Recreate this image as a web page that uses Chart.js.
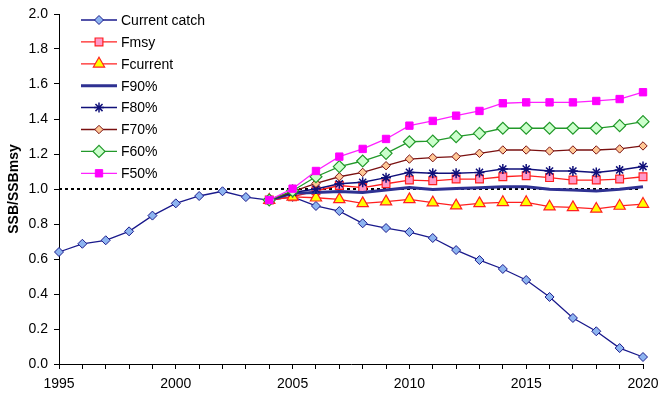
<!DOCTYPE html>
<html>
<head>
<meta charset="utf-8">
<script src="https://cdn.jsdelivr.net/npm/chart.js@4/dist/chart.umd.min.js"></script>
<style>
  html, body { margin: 0; padding: 0; background: #fff; }
  #wrap { width: 660px; height: 396px; position: relative; }
</style>
</head>
<body>
<div id="wrap"><canvas id="chart-ssb"></canvas></div>
<script>
// SSB relative to SSBmsy: historic trajectory plus projections under different F options

const years = [1995, 1996, 1997, 1998, 1999, 2000, 2001, 2002, 2003, 2004, 2005, 2006, 2007,
    2008, 2009, 2010, 2011, 2012, 2013, 2014, 2015, 2016, 2017, 2018, 2019, 2020];
const projStart = 2004;

const currentCatch = [0.64, 0.687, 0.707, 0.758, 0.848, 0.918, 0.96, 0.987, 0.954, 0.937, 0.955,
    0.903, 0.874, 0.804, 0.777, 0.754, 0.72, 0.651, 0.594, 0.543, 0.48, 0.383, 0.263, 0.187, 0.091, 0.04];

// projections, 2004-2020
const fmsy = [0.937, 0.955, 0.99, 1.02, 1.008, 1.03, 1.051, 1.047, 1.057, 1.057, 1.07, 1.076, 1.065, 1.051, 1.051, 1.057, 1.07];
const fcurrent = [0.937, 0.955, 0.95, 0.941, 0.918, 0.928, 0.941, 0.922, 0.905, 0.918, 0.924, 0.924, 0.899, 0.895, 0.886, 0.903, 0.914];
const f90 = [0.937, 0.975, 0.98, 0.985, 0.98, 0.994, 1.008, 0.997, 1.003, 1.007, 1.013, 1.013, 0.998, 0.994, 0.989, 0.998, 1.013];
const f80 = [0.937, 0.98, 1.0, 1.03, 1.038, 1.065, 1.095, 1.09, 1.09, 1.095, 1.114, 1.114, 1.103, 1.103, 1.095, 1.109, 1.128];
const f70 = [0.937, 0.985, 1.032, 1.07, 1.095, 1.133, 1.171, 1.179, 1.185, 1.204, 1.223, 1.223, 1.217, 1.223, 1.223, 1.229, 1.246];
const f60 = [0.937, 0.99, 1.07, 1.128, 1.16, 1.204, 1.27, 1.274, 1.299, 1.318, 1.347, 1.347, 1.347, 1.347, 1.347, 1.362, 1.385];
const f50 = [0.937, 1.002, 1.103, 1.185, 1.229, 1.286, 1.362, 1.389, 1.419, 1.446, 1.49, 1.495, 1.495, 1.495, 1.503, 1.514, 1.553];

const yTicks = [0.0, 0.2, 0.4, 0.6, 0.8, 1.0, 1.2, 1.4, 1.6, 1.8, 2.0];
const refLevel = 1.0;

const FONT = "'Liberation Sans', Arial, sans-serif";

function padProjection(values) {
    const lead = years.indexOf(projStart);
    return new Array(lead).fill(null).concat(values);
}

function series(label, data, line, marker) {
    return {
        label,
        data,
        borderColor: line.color,
        borderWidth: line.width,
        pointStyle: marker ? marker.style : false,
        pointRadius: marker ? marker.radius : 0,
        pointBackgroundColor: marker ? marker.fill : line.color,
        pointBorderColor: marker ? marker.stroke : line.color,
        pointBorderWidth: marker ? marker.borderWidth : 0,
        tension: 0,
        spanGaps: false,
    };
}

const datasets = [
    series("Current catch", currentCatch, { color: "#1a1a8c", width: 1.3 },
        { style: "rectRot", radius: 4.5, fill: "#8db4f0", stroke: "#1a1a8c", borderWidth: 1 }),
    series("Fmsy", padProjection(fmsy), { color: "#ff2020", width: 1.3 },
        { style: "rect", radius: 5.5, fill: "#ff99c8", stroke: "#ff2020", borderWidth: 1.2 }),
    series("Fcurrent", padProjection(fcurrent), { color: "#ff2020", width: 1.3 },
        { style: "triangle", radius: 6.5, fill: "#ffff00", stroke: "#ff2020", borderWidth: 1.2 }),
    series("F90%", padProjection(f90), { color: "#2e3192", width: 3 }, null),
    series("F80%", padProjection(f80), { color: "#10107a", width: 1.5 },
        { style: "star", radius: 5, fill: "#10107a", stroke: "#10107a", borderWidth: 1.5 }),
    series("F70%", padProjection(f70), { color: "#7a1010", width: 1.3 },
        { style: "rectRot", radius: 4.2, fill: "#ffc896", stroke: "#7a1010", borderWidth: 1 }),
    series("F60%", padProjection(f60), { color: "#22992a", width: 1.3 },
        { style: "rectRot", radius: 6, fill: "#ccffcc", stroke: "#22992a", borderWidth: 1.2 }),
    series("F50%", padProjection(f50), { color: "#ff22ff", width: 1.3 },
        { style: "rect", radius: 5.2, fill: "#ff00ff", stroke: "#ff00ff", borderWidth: 1 }),
];
// later series sit on top
datasets.forEach((d, i) => { d.order = datasets.length - i; });

// dotted reference line at SSB = SSBmsy
const refLine = {
    id: "refLine",
    beforeDatasetsDraw(chart) {
        const { ctx, chartArea, scales } = chart;
        const y = Math.round(scales.y.getPixelForValue(refLevel));
        ctx.save();
        ctx.strokeStyle = "#000";
        ctx.lineWidth = 2;
        ctx.setLineDash([3, 3]);
        ctx.beginPath();
        ctx.moveTo(chartArea.left, y);
        ctx.lineTo(chartArea.right - 3, y);
        ctx.stroke();
        ctx.restore();
    },
};

// legend inside the plot, line + marker samples
const insideLegend = {
    id: "insideLegend",
    afterDraw(chart) {
        const ctx = chart.ctx;
        const x0 = 81, x1 = 117, textX = 121;
        const rowTop = 20, rowGap = 21.9;
        ctx.save();
        chart.data.datasets.forEach((ds, i) => {
            const y = rowTop + i * rowGap;
            ctx.strokeStyle = ds.borderColor;
            ctx.lineWidth = ds.borderWidth;
            ctx.setLineDash([]);
            ctx.beginPath();
            ctx.moveTo(x0, y);
            ctx.lineTo(x1, y);
            ctx.stroke();
            if (ds.pointStyle && ds.pointRadius > 0) {
                ctx.fillStyle = ds.pointBackgroundColor;
                ctx.strokeStyle = ds.pointBorderColor;
                ctx.lineWidth = ds.pointBorderWidth;
                Chart.helpers.drawPoint(ctx, {
                    pointStyle: ds.pointStyle,
                    radius: ds.pointRadius,
                    rotation: 0,
                    borderWidth: ds.pointBorderWidth,
                }, (x0 + x1) / 2, y);
            }
            ctx.fillStyle = "#000";
            ctx.font = "14px " + FONT;
            ctx.textBaseline = "middle";
            ctx.textAlign = "left";
            ctx.fillText(ds.label, textX, y + 1);
        });
        ctx.restore();
    },
};

new Chart(document.getElementById("chart-ssb").getContext("2d"), {
    type: "line",
    data: { labels: years, datasets },
    options: {
        responsive: true,
        maintainAspectRatio: false,
        animation: false,
        layout: { padding: { top: 14, right: 17, left: 0, bottom: 0 } },
        plugins: {
            legend: { display: false },
            tooltip: { enabled: false },
        },
        scales: {
            x: {
                type: "category",
                offset: false,
                grid: { display: true, drawOnChartArea: false, drawTicks: true, tickLength: 5, color: "#000", lineWidth: 1 },
                border: { color: "#000", width: 1 },
                ticks: {
                    autoSkip: false,
                    maxRotation: 0,
                    padding: 7,
                    color: "#000",
                    font: { family: FONT, size: 14 },
                    callback: (v, i) => (years[i] % 5 === 0 ? String(years[i]) : ""),
                },
                afterFit: s => { s.height = 32; s.paddingLeft = 0; s.paddingRight = 0; },
            },
            y: {
                min: yTicks[0],
                max: yTicks[yTicks.length - 1],
                grid: { display: true, drawOnChartArea: false, drawTicks: true, tickLength: 5, color: "#000", lineWidth: 1 },
                border: { color: "#000", width: 1 },
                ticks: {
                    stepSize: 0.1,
                    padding: 6,
                    color: "#000",
                    font: { family: FONT, size: 14 },
                    callback: v => {
                        const hit = yTicks.find(t => Math.abs(t - v) < 1e-6);
                        return hit === undefined ? "" : hit.toFixed(1);
                    },
                },
                title: {
                    display: true,
                    text: "SSB/SSBmsy",
                    color: "#000",
                    font: { family: FONT, size: 14, weight: "bold" },
                    padding: { top: 6, bottom: 0 },
                },
                afterFit: s => { s.width = 59; s.paddingTop = 0; s.paddingBottom = 0; },
            },
        },
    },
    plugins: [refLine, insideLegend],
});
</script>
</body>
</html>
